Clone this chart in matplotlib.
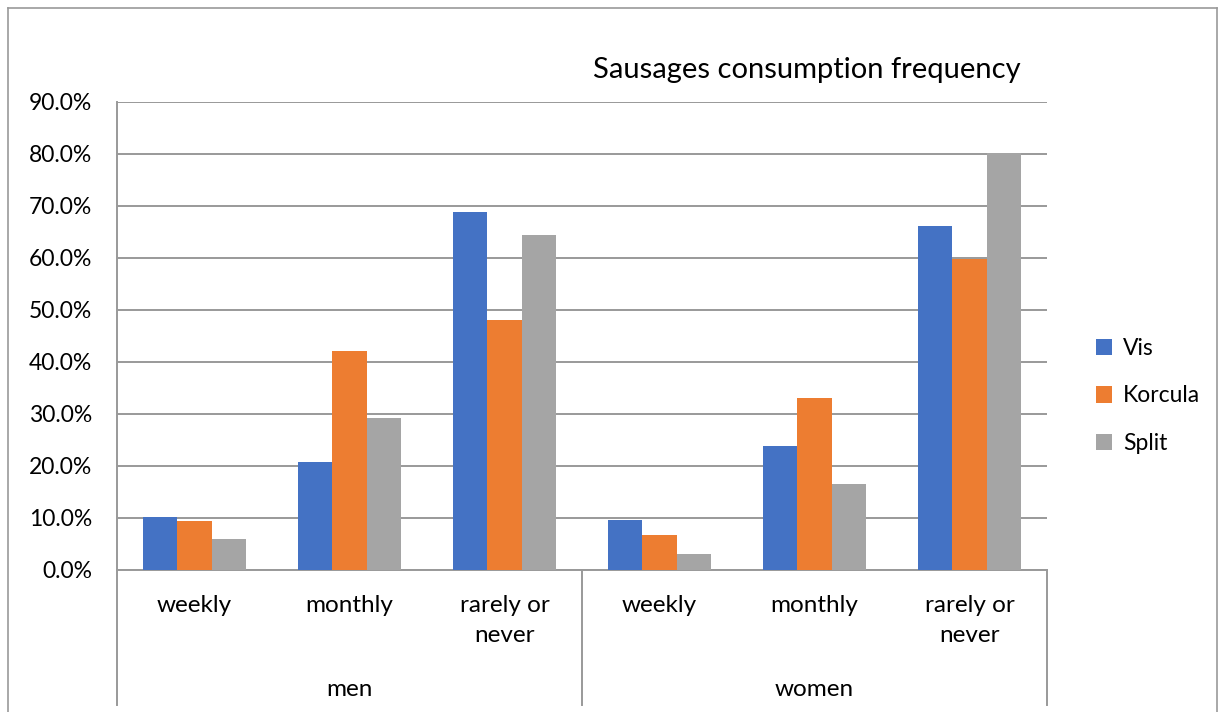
import numpy as np
import matplotlib.pyplot as plt
from matplotlib.lines import Line2D
import matplotlib.transforms as mtransforms

plt.rcParams['font.family'] = ['Lato', 'DejaVu Sans']

# data
groups = ["men", "women"]
freqs = ["weekly", "monthly", "rarely or\nnever"]
series = ["Vis", "Korcula", "Split"]
vis = [10.1, 20.7, 68.8, 9.6, 23.8, 66.1]
korcula = [9.5, 42.1, 48.0, 6.7, 33.1, 59.8]
split = [6.0, 29.2, 64.5, 3.0, 16.5, 80.1]
colors = ["#4472C4", "#ED7D31", "#A5A5A5"]

fig = plt.figure(figsize=(12.26, 7.12), dpi=100)
ax = fig.add_axes([117/1226, 1 - 570/712, 930/1226, 468/712])

x = np.arange(6)
w = 1 / 4.5
for i, (vals, c, name) in enumerate(zip([vis, korcula, split], colors, series)):
    ax.bar(x + (i - 1) * w, vals, width=w, color=c, label=name, zorder=3)

ax.set_xlim(-0.5, 5.5)
ax.set_ylim(0, 90)
ax.set_yticks(np.arange(0, 91, 10))
ax.set_yticklabels([f"{v:.1f}%" for v in np.arange(0, 91, 10)], fontsize=16.5)
ax.tick_params(axis="y", length=0, pad=18)
ax.set_xticks([])
ax.grid(axis="y", color="#999999", linewidth=1.4, zorder=0)
for s in ["top", "right"]:
    ax.spines[s].set_visible(False)
for s in ["left", "bottom"]:
    ax.spines[s].set_color("#999999")
    ax.spines[s].set_linewidth(1.4)

# hierarchical category axis
trans = mtransforms.blended_transform_factory(ax.transData, ax.transAxes)
axh = 468
for xv in [-0.5, 2.5, 5.5]:
    ax.add_line(Line2D([xv, xv], [0, -(705 - 570) / axh], transform=trans,
                       color="#999999", linewidth=1.4, clip_on=False))
for gi, g in enumerate(groups):
    for fi, f in enumerate(freqs):
        for li, line in enumerate(f.split("\n")):
            ax.text(gi * 3 + fi, -(605 + 31 * li - 570) / axh, line, transform=trans,
                    ha="center", va="center", fontsize=17.5)
    ax.text(gi * 3 + 1, -(689 - 570) / axh, g, transform=trans,
            ha="center", va="center", fontsize=17.5)

fig.text(807 / 1226, 1 - 70 / 712, "Sausages consumption frequency",
         ha="center", va="center", fontsize=21)

ax.legend(loc="center left", bbox_to_anchor=(1075 / 1226, 1 - 396 / 712),
          bbox_transform=fig.transFigure, frameon=False, fontsize=16.5,
          handlelength=0.7, handleheight=0.7, labelspacing=1.15, handletextpad=0.5)

# outer chart border
fig.add_artist(Line2D([8 / 1226, 8 / 1226], [0, 1 - 8 / 712], color="#999999", linewidth=1.2))
fig.add_artist(Line2D([8 / 1226, 1217 / 1226], [1 - 8 / 712, 1 - 8 / 712], color="#999999", linewidth=1.2))
fig.add_artist(Line2D([1217 / 1226, 1217 / 1226], [0, 1 - 8 / 712], color="#999999", linewidth=1.2))

fig.savefig("out.png", dpi=100)
